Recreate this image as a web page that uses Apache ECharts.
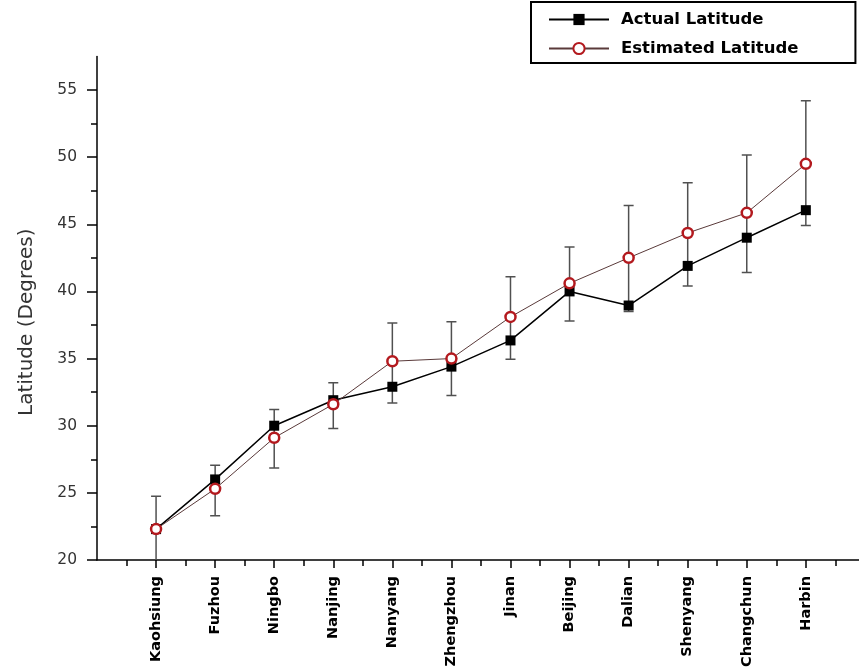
<!DOCTYPE html>
<html>
<head>
<meta charset="utf-8">
<script src="https://cdn.jsdelivr.net/npm/echarts@6/dist/echarts.min.js"></script>
<style>
html,body{margin:0;padding:0;background:#fff;}
#chart{width:859px;height:672px;}
</style>
</head>
<body>
<div id="chart"></div>
<script>
const categories = ['Kaohsiung','Fuzhou','Ningbo','Nanjing','Nanyang','Zhengzhou','Jinan','Beijing','Dalian','Shenyang','Changchun','Harbin'];
const actualLatitude = [22.3, 26.0, 30.0, 31.9, 32.9, 34.4, 36.35, 40.0, 38.95, 41.9, 44.0, 46.05];
const estimatedLatitude = [22.3, 25.3, 29.1, 31.6, 34.8, 35.0, 38.1, 40.6, 42.5, 44.35, 45.85, 49.5];
const errorHigh = [24.75, 27.05, 31.2, 33.2, 37.65, 37.75, 41.1, 43.3, 46.4, 48.1, 50.15, 54.2];
const errorLow = [19.7, 23.3, 26.85, 29.8, 31.7, 32.25, 34.95, 37.8, 38.5, 40.4, 41.4, 44.9];
const yTicks = [20, 25, 30, 35, 40, 45, 50, 55];
const yMinorTicks = [22.5, 27.5, 32.5, 37.5, 42.5, 47.5, 52.5];
const xTicks = [1,2,3,4,5,6,7,8,9,10,11,12];
const xMinorTicks = [0.5,1.5,2.5,3.5,4.5,5.5,6.5,7.5,8.5,9.5,10.5,11.5,12.5];

const Y_MIN = 20, Y_MAX = 57.5, X_MIN = 0, X_MAX = 12.9;

const pos = (i) => i + 1;
const actualData = actualLatitude.map((v, i) => [pos(i), v]);
const estData = estimatedLatitude.map((v, i) => [pos(i), v]);
const errData = errorLow.map((lo, i) => [pos(i), lo, errorHigh[i]]);

const chart = echarts.init(document.getElementById('chart'), null, {renderer: 'canvas'});

const axisLineStyle = {color: '#000', width: 1.5};

chart.setOption({
  animation: false,
  backgroundColor: '#fff',
  grid: {left: 97, right: 0, top: 56.4, bottom: 112, containLabel: false},
  legend: {
    orient: 'vertical',
    left: 531, top: 2,
    itemWidth: 60, itemHeight: 14, itemGap: 12,
    borderColor: '#000', borderWidth: 2, borderRadius: 0,
    padding: [9, 57, 6, 17],
    backgroundColor: '#fff',
    textStyle: {fontFamily: 'DejaVu Sans', fontWeight: 'bold', fontSize: 16.5, color: '#000', padding: [0,0,0,7]},
    data: ['Actual Latitude', 'Estimated Latitude']
  },
  xAxis: [{
    type: 'value', min: X_MIN, max: X_MAX,
    position: 'bottom',
    splitLine: {show: false},
    axisLine: {show: true, onZero: false, lineStyle: axisLineStyle},
    axisTick: {show: true, customValues: xTicks, length: 8, lineStyle: {color: '#000', width: 1.5}},
    axisLabel: {
      customValues: xTicks, rotate: 90, margin: 16,
      fontFamily: 'DejaVu Sans', fontWeight: 'bold', fontSize: 14.5, color: '#000',
      formatter: (v) => categories[Math.round(v) - 1] || ''
    }
  }, {
    type: 'value', min: X_MIN, max: X_MAX,
    position: 'bottom', offset: 0,
    splitLine: {show: false},
    axisLine: {show: false},
    axisTick: {show: true, customValues: xMinorTicks, length: 6, lineStyle: {color: '#000', width: 1.5}},
    axisLabel: {show: false}
  }],
  yAxis: [{
    type: 'value', min: Y_MIN, max: Y_MAX,
    position: 'left',
    name: 'Latitude (Degrees)', nameLocation: 'middle', nameGap: 60, nameRotate: 90,
    nameTextStyle: {fontFamily: 'DejaVu Sans', fontSize: 20, color: '#333', padding: [0, 28, 0, 0]},
    splitLine: {show: false},
    axisLine: {show: true, onZero: false, lineStyle: axisLineStyle},
    axisTick: {show: true, customValues: yTicks, length: 10, lineStyle: {color: '#000', width: 1.5}},
    axisLabel: {customValues: yTicks, margin: 20, fontFamily: 'DejaVu Sans', fontSize: 15.5, color: '#333'}
  }, {
    type: 'value', min: Y_MIN, max: Y_MAX,
    position: 'left', offset: 0,
    splitLine: {show: false},
    axisLine: {show: false},
    axisTick: {show: true, customValues: yMinorTicks, length: 6, lineStyle: {color: '#000', width: 1.5}},
    axisLabel: {show: false}
  }],
  series: [{
    type: 'custom',
    name: 'err',
    xAxisIndex: 0, yAxisIndex: 0,
    z: 1,
    clip: true,
    data: errData,
    renderItem: function (params, api) {
      const x = api.value(0), lo = api.value(1), hi = api.value(2);
      const top = api.coord([x, hi]);
      const loC = Math.max(lo, Y_MIN);
      const bot = api.coord([x, loC]);
      const cw = 5;
      const st = {stroke: '#505050', lineWidth: 1.5};
      const children = [
        {type: 'line', shape: {x1: top[0], y1: top[1], x2: bot[0], y2: bot[1]}, style: st},
        {type: 'line', shape: {x1: top[0]-cw, y1: top[1], x2: top[0]+cw, y2: top[1]}, style: st}
      ];
      if (lo >= Y_MIN) {
        children.push({type: 'line', shape: {x1: bot[0]-cw, y1: bot[1], x2: bot[0]+cw, y2: bot[1]}, style: st});
      }
      return {type: 'group', children: children};
    }
  }, {
    type: 'line',
    name: 'Actual Latitude',
    xAxisIndex: 0, yAxisIndex: 0,
    z: 3,
    data: actualData,
    symbol: 'rect', symbolSize: 10,
    itemStyle: {color: '#000'},
    lineStyle: {color: '#000', width: 1.5}
  }, {
    type: 'line',
    name: 'Estimated Latitude',
    xAxisIndex: 0, yAxisIndex: 0,
    z: 4,
    data: estData,
    symbol: 'circle', symbolSize: 10,
    itemStyle: {color: '#fff', borderColor: '#b3191e', borderWidth: 2.5},
    lineStyle: {color: '#5a3a3a', width: 1}
  }]
});
</script>
</body>
</html>
